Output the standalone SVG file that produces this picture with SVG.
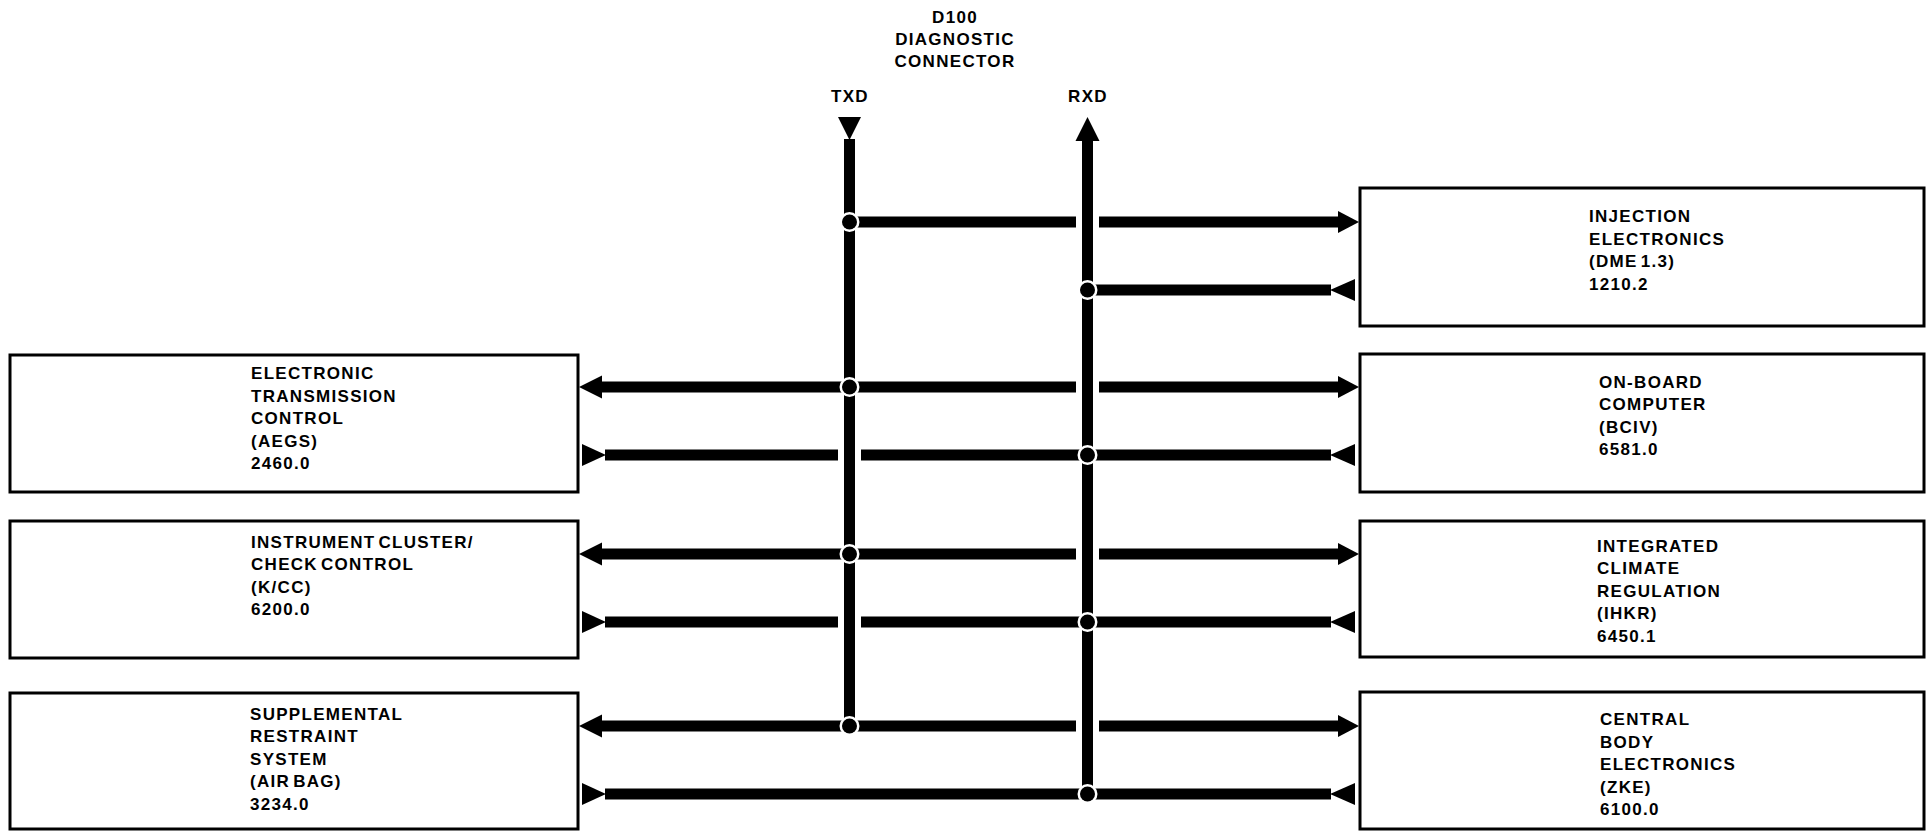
<svg xmlns="http://www.w3.org/2000/svg" width="1927" height="832" viewBox="0 0 1927 832">
<style>
.box{fill:#fff;stroke:#000;stroke-width:3}
.t{font-family:"Liberation Sans",Arial,sans-serif;font-weight:bold;font-size:17px;letter-spacing:1.3px;word-spacing:-3px;fill:#000}
.c{text-anchor:middle}
.w{stroke:#000;stroke-width:11;stroke-linecap:butt;fill:none}
.ah{fill:#000}
</style>
<defs>
<g id="dot">
<circle cx="0" cy="0" r="10" fill="#fff"/>
<circle cx="0" cy="0" r="7.5" fill="#000"/>
</g>
</defs>
<rect width="1927" height="832" fill="#fff"/>

<g id="header">
<text class="t c" x="955" y="23">D100</text>
<text class="t c" x="955" y="45">DIAGNOSTIC</text>
<text class="t c" x="955" y="67">CONNECTOR</text>
<text class="t c" x="850" y="102">TXD</text>
<text class="t c" x="1088" y="102">RXD</text>
</g>

<g id="node-injection">
<rect class="box" x="1360" y="188" width="564" height="138"/>
<text class="t" x="1589" y="222">INJECTION</text>
<text class="t" x="1589" y="244.5">ELECTRONICS</text>
<text class="t" x="1589" y="267">(DME 1.3)</text>
<text class="t" x="1589" y="289.5">1210.2</text>
</g>

<g id="node-onboard">
<rect class="box" x="1360" y="354" width="564" height="138"/>
<text class="t" x="1599" y="387.5">ON-BOARD</text>
<text class="t" x="1599" y="410">COMPUTER</text>
<text class="t" x="1599" y="432.5">(BCIV)</text>
<text class="t" x="1599" y="455">6581.0</text>
</g>

<g id="node-climate">
<rect class="box" x="1360" y="521" width="564" height="136"/>
<text class="t" x="1597" y="551.5">INTEGRATED</text>
<text class="t" x="1597" y="574">CLIMATE</text>
<text class="t" x="1597" y="596.5">REGULATION</text>
<text class="t" x="1597" y="619">(IHKR)</text>
<text class="t" x="1597" y="641.5">6450.1</text>
</g>

<g id="node-central">
<rect class="box" x="1360" y="692" width="564" height="137"/>
<text class="t" x="1600" y="725">CENTRAL</text>
<text class="t" x="1600" y="747.5">BODY</text>
<text class="t" x="1600" y="770">ELECTRONICS</text>
<text class="t" x="1600" y="792.5">(ZKE)</text>
<text class="t" x="1600" y="815">6100.0</text>
</g>

<g id="node-transmission">
<rect class="box" x="10" y="355" width="568" height="137"/>
<text class="t" x="251" y="379">ELECTRONIC</text>
<text class="t" x="251" y="401.5">TRANSMISSION</text>
<text class="t" x="251" y="424">CONTROL</text>
<text class="t" x="251" y="446.5">(AEGS)</text>
<text class="t" x="251" y="469">2460.0</text>
</g>

<g id="node-instrument">
<rect class="box" x="10" y="521" width="568" height="137"/>
<text class="t" x="251" y="547.5">INSTRUMENT CLUSTER/</text>
<text class="t" x="251" y="570">CHECK CONTROL</text>
<text class="t" x="251" y="592.5">(K/CC)</text>
<text class="t" x="251" y="615">6200.0</text>
</g>

<g id="node-srs">
<rect class="box" x="10" y="693" width="568" height="136"/>
<text class="t" x="250" y="719.5">SUPPLEMENTAL</text>
<text class="t" x="250" y="742">RESTRAINT</text>
<text class="t" x="250" y="764.5">SYSTEM</text>
<text class="t" x="250" y="787">(AIR BAG)</text>
<text class="t" x="250" y="809.5">3234.0</text>
</g>

<g id="connectors">
<!-- TXD bus -->
<line class="w" x1="849.5" y1="139" x2="849.5" y2="726"/>
<polygon class="ah" points="838,117 861,117 849.5,140"/>
<!-- RXD bus -->
<line class="w" x1="1087.5" y1="139" x2="1087.5" y2="794"/>
<polygon class="ah" points="1075.5,141 1099.5,141 1087.5,117"/>

<!-- TX rows -->
<path class="w" d="M849.5 222H1076M1099 222H1339"/>
<polygon class="ah" points="1338,211 1359,222 1338,233"/>

<path class="w" d="M602 387H849.5M849.5 387H1076M1099 387H1339"/>
<polygon class="ah" points="602,375.5 579,387 602,398.5"/>
<polygon class="ah" points="1338,376 1359,387 1338,398"/>

<path class="w" d="M602 554H849.5M849.5 554H1076M1099 554H1339"/>
<polygon class="ah" points="602,542.5 579,554 602,565.5"/>
<polygon class="ah" points="1338,543 1359,554 1338,565"/>

<path class="w" d="M602 726H849.5M849.5 726H1076M1099 726H1339"/>
<polygon class="ah" points="602,714.5 579,726 602,737.5"/>
<polygon class="ah" points="1338,715 1359,726 1338,737"/>

<!-- RX rows -->
<path class="w" d="M1087.5 290H1331"/>
<polygon class="ah" points="1355,279 1330,290 1355,301"/>

<path class="w" d="M605 455H838M861 455H1087.5M1087.5 455H1331"/>
<polygon class="ah" points="582,444 606,455 582,466"/>
<polygon class="ah" points="1355,444 1330,455 1355,466"/>

<path class="w" d="M605 622H838M861 622H1087.5M1087.5 622H1331"/>
<polygon class="ah" points="582,611 606,622 582,633"/>
<polygon class="ah" points="1355,611 1330,622 1355,633"/>

<path class="w" d="M605 794H1087.5M1087.5 794H1331"/>
<polygon class="ah" points="582,783 606,794 582,805"/>
<polygon class="ah" points="1355,783 1330,794 1355,805"/>

<!-- junction dots -->
<use href="#dot" x="849.5" y="222"/>
<use href="#dot" x="849.5" y="387"/>
<use href="#dot" x="849.5" y="554"/>
<use href="#dot" x="849.5" y="726"/>
<use href="#dot" x="1087.5" y="290"/>
<use href="#dot" x="1087.5" y="455"/>
<use href="#dot" x="1087.5" y="622"/>
<use href="#dot" x="1087.5" y="794"/>
</g>
</svg>
